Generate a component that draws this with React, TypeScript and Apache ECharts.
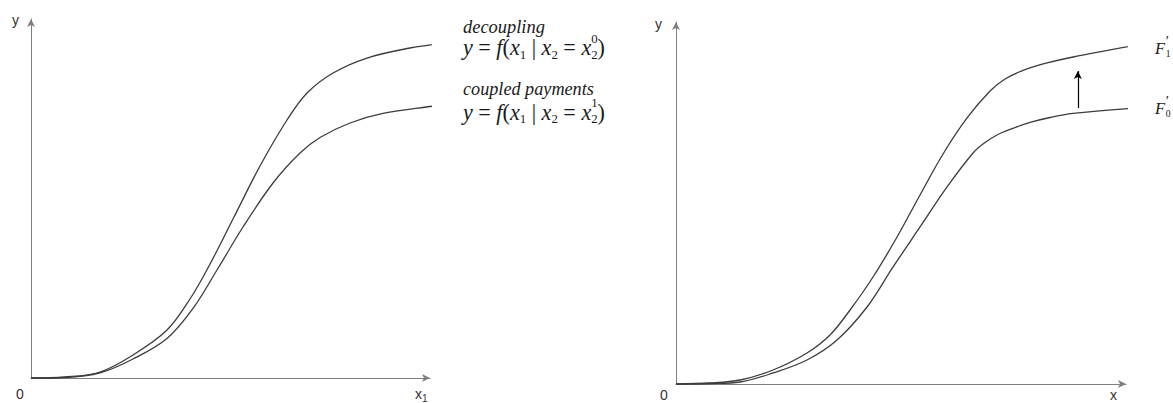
import React, { useEffect, useRef } from 'react';
import * as echarts from 'echarts';

// ---- Data ----
// Left panel: x1 on the horizontal axis, y on the vertical axis (axes span 0..~99)
const leftDecouplingX = [0, 8.44, 17.12, 25.31, 33.75, 39.45, 44.42, 50.12, 56.82, 63.52, 68.49, 74.94, 83.37, 94.04, 102.73];
const leftDecouplingY = [0, 0.28, 1.65, 6.34, 13.22, 21.76, 31.4, 43.8, 58.4, 71.07, 78.5, 84.02, 88.15, 90.91, 92.29];
const leftCoupledX = [0, 8.44, 17.12, 25.31, 33.75, 40.2, 46.15, 52.6, 60.05, 66.75, 71.71, 79.16, 87.34, 99.01, 102.73];
const leftCoupledY = [0, 0.14, 1.38, 5.23, 10.88, 19.15, 29.75, 41.6, 53.72, 61.98, 66.25, 70.25, 72.87, 74.79, 75.21];

// Right panel: F1' (upper) and F0' (lower)
const rightF1X = [0, 7.49, 14.1, 21.37, 28.85, 33.92, 38.33, 43.39, 48.68, 53.74, 58.81, 64.1, 69.16, 72.47, 76.43, 81.28, 87.44, 101.54];
const rightF1Y = [0, 0.27, 1.09, 3.83, 8.47, 13.39, 20.22, 29.23, 40.16, 51.64, 62.84, 72.68, 80.05, 83.33, 85.66, 87.57, 89.34, 92.62];
const rightF0X = [0, 7.49, 14.1, 21.37, 28.85, 35.46, 42.07, 47.8, 53.74, 59.69, 65.42, 68.06, 70.7, 73.57, 77.97, 82.38, 87.44, 101.54];
const rightF0Y = [0, 0.14, 0.55, 3.01, 6.56, 12.02, 21.04, 31.97, 42.9, 53.83, 63.11, 65.98, 68.03, 69.54, 71.45, 72.81, 73.91, 75.41];

// Shift arrow in right panel (from F0' toward F1')
const shiftArrowX = 88.5;
const shiftArrowFrom = 75.4;
const shiftArrowTo = 85.5;

const axisNames = { y: 'y', zero: '0', x1: 'x', x1Sub: '1', x: 'x' };
const labelDecoupling = 'decoupling';
const labelCoupled = 'coupled payments';

const SERIF = '"Liberation Serif", "DejaVu Serif", serif';
const SANS = '"Liberation Sans", Arial, sans-serif';
const TEXT = '#1a1a1a';

type Tok = { t: string; it?: boolean; sub?: boolean; sup?: boolean; stack?: boolean; scale?: number };

function pairs(xs: number[], ys: number[]) {
  return xs.map((x, i) => [x, ys[i]]);
}

let measureCtx: CanvasRenderingContext2D | null = null;
function measure(t: string, font: string) {
  if (!measureCtx) measureCtx = document.createElement('canvas').getContext('2d');
  measureCtx!.font = font;
  return measureCtx!.measureText(t).width;
}

function layoutTokens(
  toks: Tok[],
  family: string,
  size: number,
  x0: number,
  yc: number,
  targetWidth?: number,
  fill: string = TEXT
) {
  const run = (s: number) => {
    const out: any[] = [];
    let x = 0;
    let prevStart = 0;
    let prevW = 0;
    for (const k of toks) {
      const sz = (k.scale ?? (k.sub || k.sup ? 0.58 : 1)) * s;
      const font = `${k.it ? 'italic ' : ''}${sz.toFixed(2)}px ${family}`;
      const w = measure(k.t, font);
      const dy = k.sub ? s * 0.33 : k.sup ? -s * 0.4 : 0;
      let px: number;
      if (k.stack) {
        px = prevStart;
        const adv = Math.max(prevW, w);
        x = prevStart + adv;
        prevW = adv;
      } else {
        px = x;
        prevStart = x;
        prevW = w;
        x += w;
      }
      out.push({ t: k.t, font, px, dy });
    }
    return { out, width: x };
  };
  let s = size;
  if (targetWidth) {
    const r = run(size);
    s = (size * targetWidth) / r.width;
  }
  const { out } = run(s);
  return out.map((o: any) => ({
    type: 'text',
    silent: true,
    x: x0 + o.px,
    y: yc + o.dy,
    style: {
      text: o.t,
      font: o.font,
      fill,
      align: 'left',
      verticalAlign: 'middle',
      textAlign: 'left',
      textVerticalAlign: 'middle',
    },
  }));
}

function formula(sup: string): Tok[] {
  return [
    { t: 'y', it: true },
    { t: ' = ' },
    { t: 'f', it: true },
    { t: '(' },
    { t: 'x', it: true },
    { t: '1', sub: true },
    { t: ' | ' },
    { t: 'x', it: true },
    { t: '2', sub: true },
    { t: ' = ' },
    { t: 'x', it: true },
    { t: '2', sub: true },
    { t: sup, sup: true, stack: true },
    { t: ')' },
  ];
}

function fPrime(sub: string): Tok[] {
  return [
    { t: 'F', it: true },
    { t: ' ', scale: 0.15 },
    { t: '′', sup: true, scale: 0.9 },
    { t: sub, sub: true, stack: true },
  ];
}

function buildGraphics() {
  const els: any[] = [];
  // Left panel labels
  els.push(...layoutTokens([{ t: axisNames.y }], SANS, 14, 12, 20, undefined, '#333'));
  els.push(...layoutTokens([{ t: axisNames.zero }], SANS, 14, 16, 394, undefined, '#333'));
  els.push(
    ...layoutTokens([{ t: axisNames.x1 }, { t: axisNames.x1Sub, sub: true, scale: 0.72 }], SANS, 14, 415, 394, undefined, '#333')
  );
  // Right panel labels
  els.push(...layoutTokens([{ t: axisNames.y }], SANS, 14, 655, 24, undefined, '#333'));
  els.push(...layoutTokens([{ t: axisNames.zero }], SANS, 14, 660, 395, undefined, '#333'));
  els.push(...layoutTokens([{ t: axisNames.x }], SANS, 14, 1110, 395, undefined, '#333'));

  // Curve annotations (left)
  els.push(...layoutTokens([{ t: labelDecoupling, it: true }], SERIF, 15, 463, 27, 82));
  els.push(...layoutTokens(formula('0'), SERIF, 15, 463, 47.5, 142));
  els.push(...layoutTokens([{ t: labelCoupled, it: true }], SERIF, 15, 463, 89, 131));
  els.push(...layoutTokens(formula('1'), SERIF, 15, 463, 112, 142));

  // Curve annotations (right)
  els.push(...layoutTokens(fPrime('1'), SERIF, 16.5, 1155, 48));
  els.push(...layoutTokens(fPrime('0'), SERIF, 16.5, 1155, 108));
  return els;
}

const axisLineStyle = { color: '#7f7f7f', width: 1 };

function makeAxis(gridIndex: number, max: number) {
  return {
    gridIndex,
    type: 'value' as const,
    min: 0,
    max,
    axisLine: {
      show: true,
      onZero: false,
      symbol: ['none', 'arrow'],
      symbolSize: [6, 8],
      lineStyle: axisLineStyle,
    },
    axisTick: { show: false },
    axisLabel: { show: false },
    splitLine: { show: false },
  };
}

const curveStyle = { color: '#3c3c3c', width: 1.3 };

function curve(name: string, data: number[][], axisIndex: number, extra: any = {}) {
  return {
    name,
    type: 'line' as const,
    xAxisIndex: axisIndex,
    yAxisIndex: axisIndex,
    data,
    smooth: 0.35,
    clip: false,
    showSymbol: false,
    symbol: 'none',
    lineStyle: curveStyle,
    itemStyle: { color: '#3c3c3c' },
    silent: true,
    ...extra,
  };
}

export default function App() {
  const ref = useRef<HTMLDivElement>(null);
  useEffect(() => {
    if (!ref.current) return;
    const chart = echarts.init(ref.current, undefined, { renderer: 'svg' });
    chart.setOption({
      animation: false,
      backgroundColor: '#ffffff',
      grid: [
        { left: 31, top: 19, width: 399, height: 359 },
        { left: 676, top: 22, width: 450, height: 362 },
      ],
      xAxis: [makeAxis(0, 99), makeAxis(1, 99.1)],
      yAxis: [makeAxis(0, 98.9), makeAxis(1, 98.9)],
      series: [
        curve('decoupling', pairs(leftDecouplingX, leftDecouplingY), 0),
        curve('coupled payments', pairs(leftCoupledX, leftCoupledY), 0),
        curve("F1'", pairs(rightF1X, rightF1Y), 1, {
          markLine: {
            silent: true,
            symbol: ['none', 'arrow'],
            symbolSize: [6, 8],
            label: { show: false },
            lineStyle: { color: '#000', type: 'solid', width: 1.2 },
            data: [[{ coord: [shiftArrowX, shiftArrowFrom] }, { coord: [shiftArrowX, shiftArrowTo] }]],
          },
        }),
        curve("F0'", pairs(rightF0X, rightF0Y), 1),
      ],
      graphic: buildGraphics(),
    });
    return () => chart.dispose();
  }, []);
  return (
    <div
      ref={ref}
      style={{ position: 'absolute', left: 0, top: 0, width: 1173, height: 403, background: '#fff' }}
    />
  );
}
